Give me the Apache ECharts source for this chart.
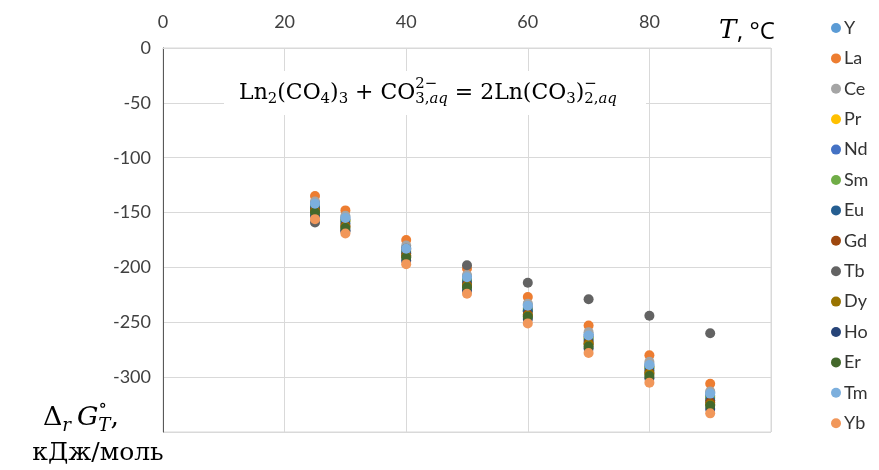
<!DOCTYPE html>
<html><head><meta charset="utf-8">
<script src="https://cdn.jsdelivr.net/npm/echarts@6/dist/echarts.min.js"></script>
<style>html,body{margin:0;padding:0;background:#fff}#c{width:879px;height:470px}</style>
</head><body><div id="c"></div>
<script>
const temps = [25, 30, 40, 50, 60, 70, 80, 90];
const seriesNames = ['Y','La','Ce','Pr','Nd','Sm','Eu','Gd','Tb','Dy','Ho','Er','Tm','Yb'];
const vY  = [-141, -154, -182, -208, -234, -261, -288, -314];
const vLa = [-135, -148, -175, -201, -227, -253, -280, -306];
const vCe = [-140, -153, -180, -207, -233, -259, -286, -313];
const vPr = [-144, -157, -185, -211, -238, -264, -291, -318];
const vNd = [-143, -156, -184, -210, -237, -263, -290, -317];
const vSm = [-145, -158, -186, -212, -239, -265, -292, -319];
const vEu = [-146, -160, -187, -214, -240, -267, -294, -321];
const vGd = [-148, -162, -189, -216, -243, -269, -296, -323];
const vTb = [-159, -167, -183, -198, -214, -229, -244, -260];
const vDy = [-149, -163, -190, -217, -244, -270, -297, -325];
const vHo = [-153, -166, -194, -221, -247, -274, -301, -329];
const vEr = [-150, -164, -191, -218, -245, -272, -299, -326];
const vTm = [-142, -155, -183, -209, -235, -262, -289, -315];
const vYb = [-156, -169, -197, -224, -251, -278, -305, -333];
const seriesValues = [vY,vLa,vCe,vPr,vNd,vSm,vEu,vGd,vTb,vDy,vHo,vEr,vTm,vYb];
const colors = ['#5B9BD5','#ED7D31','#A5A5A5','#FFC000','#4472C4','#70AD47','#255E91','#9E480E','#636363','#997300','#264478','#43682B','#7CAFDD','#F1975A'];
const xTicks = [0, 20, 40, 60, 80];
const yTicks = [0, -50, -100, -150, -200, -250, -300];

const ctx = document.createElement('canvas').getContext('2d');
function fontStr(size, italic, fam){ return (italic?'italic ':'') + size + 'px ' + fam; }
function measure(t, size, italic, fam){ ctx.font = fontStr(size, italic, fam); return ctx.measureText(t).width; }
function segW(segs, size, fam){ return segs.reduce((a,s)=>a+measure(s[0], size, s[1], fam), 0); }
// pieces: {t, k:'m'|'b'|'p'|'bp', i:italic} ; bp: sub/sup = arrays of [text, italic]
function layoutMath(pieces, cx, cy, F, fam, targetW){
  const s = 0.68;
  function widthOf(F){
    let w = 0;
    pieces.forEach(p=>{
      if (p.k==='m') w += measure(p.t, F, p.i, fam);
      else if (p.k==='b'||p.k==='p') w += measure(p.t, F*s, p.i, fam);
      else { w += Math.max(segW(p.sub, F*s, fam), segW(p.sup, F*s, fam)); }
    });
    return w;
  }
  if (targetW) { F = F * targetW / widthOf(F); }
  const W = widthOf(F);
  let x = cx - W/2;
  const els = [];
  function add(t, size, italic, xx, yy){
    els.push({type:'text', x: xx, y: yy, silent:true, z: 100,
      style:{text:t, font: fontStr(size, italic, fam), fill:'#000', textAlign:'left', textVerticalAlign:'middle'}});
  }
  function addSegs(segs, size, xx, yy){
    let q = xx;
    segs.forEach(sg=>{ add(sg[0], size, sg[1], q, yy); q += measure(sg[0], size, sg[1], fam); });
  }
  pieces.forEach(p=>{
    if (p.k==='m'){ add(p.t, F, p.i, x, cy); x += measure(p.t, F, p.i, fam); }
    else if (p.k==='b'){ add(p.t, F*s, p.i, x, cy + 0.3*F); x += measure(p.t, F*s, p.i, fam); }
    else if (p.k==='p'){ add(p.t, F*s, p.i, x, cy - 0.4*F); x += measure(p.t, F*s, p.i, fam); }
    else {
      addSegs(p.sub, F*s, x, cy + 0.3*F);
      addSegs(p.sup, F*s, x, cy - 0.42*F);
      x += Math.max(segW(p.sub, F*s, fam), segW(p.sup, F*s, fam));
    }
  });
  return els;
}
const serif = "'DejaVu Serif'";
const eqPieces = [
  {t:'Ln',k:'m'},{t:'2',k:'b'},{t:'(CO',k:'m'},{t:'4',k:'b'},{t:')',k:'m'},{t:'3',k:'b'},
  {t:' + CO',k:'m'},{k:'bp',sub:[['3,',false],['aq',true]],sup:[['2−',false]]},
  {t:' = 2Ln(CO',k:'m'},{t:'3',k:'b'},{t:')',k:'m'},{k:'bp',sub:[['2,',false],['aq',true]],sup:[['−',false]]}
];
const ytPieces = [
  {t:'Δ',k:'m'},{t:'r',k:'b',i:true},{t:' ',k:'b'},{t:'G',k:'m',i:true},{k:'bp',sub:[['T',true]],sup:[['∘',false]]},{t:',',k:'m'}
];
let graphics = [];
graphics.push({type:'rect', shape:{x:224, y:71, width:422, height:44}, style:{fill:'#fff'}, z: 90, silent:true});
graphics = graphics.concat(layoutMath(eqPieces, 428, 93, 18, serif, 378));
graphics = graphics.concat(layoutMath(ytPieces, 81, 418, 26, serif, 76));
graphics.push({type:'text', x:98, y:453, z:100, style:{text:'кДж/моль', font:"25px 'DejaVu Serif'", fill:'#000', textAlign:'center', textVerticalAlign:'middle'}});
graphics.push({type:'text', x:719, y:31, z:100, style:{text:'T', font:"italic 26px 'DejaVu Serif'", fill:'#000', textAlign:'left', textVerticalAlign:'middle'}});
graphics.push({type:'text', x:737, y:32, z:100, style:{text:', °C', font:"24px 'Open Sans'", fill:'#000', textAlign:'left', textVerticalAlign:'middle'}});

const series = seriesNames.map((n,i)=>({
  name:n, type:'scatter', symbol:'circle', symbolSize:10,
  itemStyle:{color:colors[i], opacity:1},
  data: temps.map((t,j)=>[t, seriesValues[i][j]]),
  z: 2 + i
}));

const chart = echarts.init(document.getElementById('c'), null, {renderer:'canvas'});
chart.setOption({
  animation:false,
  color: colors,
  grid:{left:163, top:48, right:108, bottom:38, show:true, borderColor:'#d9d9d9', borderWidth:1},
  xAxis:{type:'value', position:'top', min:0, max:100, interval:20,
    axisLine:{show:true, lineStyle:{color:'#d9d9d9'}}, axisTick:{show:false},
    axisLabel:{fontSize:18, fontFamily:'Lato', color:'#404040', margin:17,
      formatter:v=> xTicks.indexOf(v)>=0 ? String(v) : ''},
    splitLine:{show:true, lineStyle:{color:'#d9d9d9'}}},
  yAxis:{type:'value', min:-350, max:0, interval:50,
    axisLine:{show:true, onZero:false, lineStyle:{color:'#595959'}}, axisTick:{show:false},
    axisLabel:{fontSize:18, fontFamily:'Lato', color:'#404040', margin:12,
      formatter:v=> yTicks.indexOf(v)>=0 ? String(v) : ''},
    splitLine:{show:true, lineStyle:{color:'#d9d9d9'}}},
  legend:{orient:'vertical', left:826, top:13, icon:'circle', itemWidth:10, itemHeight:10,
    itemGap:10.4, data:seriesNames,
    textStyle:{fontSize:18, fontFamily:'Lato', color:'#333', lineHeight:20, padding:[0,0,0,-2]}},
  graphic: graphics,
  series: series
});
</script></body></html>
